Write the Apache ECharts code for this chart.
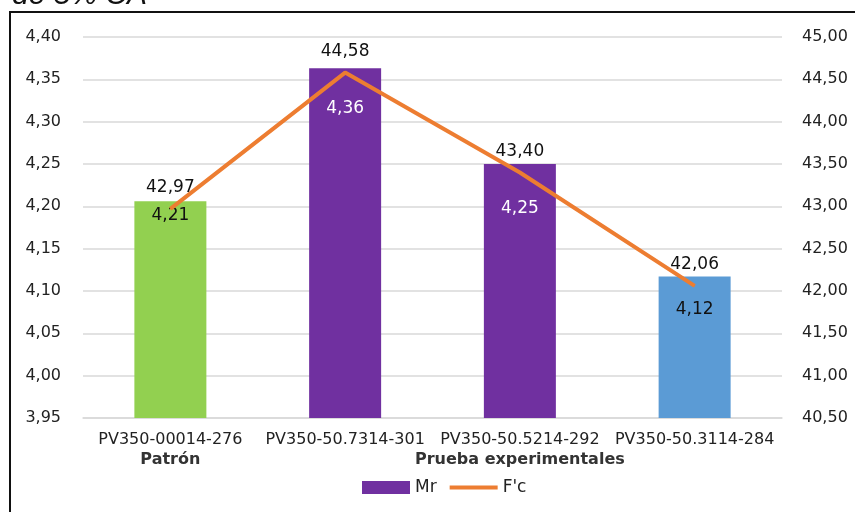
<!DOCTYPE html>
<html><head><meta charset="utf-8">
<script src="https://cdn.jsdelivr.net/npm/echarts@6/dist/echarts.min.js"></script>
<style>html,body{margin:0;padding:0;background:#fff}#c{width:855px;height:512px}</style>
</head><body><div id="c"></div>
<script>
const categories = ['PV350-00014-276','PV350-50.7314-301','PV350-50.5214-292','PV350-50.3114-284'];
const groupLabels = ['Patrón','','Prueba experimentales',''];
const mrValues = [4.206, 4.363, 4.25, 4.117];
const fcValues = [42.97, 44.58, 43.40, 42.06];
const seriesNames = ['Mr', "F'c"];
const titleText = 'de 5% CA';

// styling (not data)
const barColors = ['#92D050','#7030A0','#7030A0','#5B9BD5'];
const barLabelColors = ['#111','#fff','#fff','#111'];
const barLabelDist = [6, 32, 36, 24];
const FONT = 'DejaVu Sans';
const fmt = (v, d) => v.toFixed(d).replace('.', ',');

const chart = echarts.init(document.getElementById('c'));
chart.setOption({
  animation: false,
  textStyle: { fontFamily: FONT },
  grid: { left: 83, right: 73, top: 37, bottom: 94, containLabel: false },
  graphic: [
    { type: 'rect', shape: { x: 10, y: 12, width: 900, height: 600 }, style: { fill: 'none', stroke: '#111', lineWidth: 2 }, z: 100 },
    { type: 'text', left: 12, top: -19, style: { text: titleText, font: 'italic 30px "Liberation Sans", Arial', fill: '#111' } }
  ],
  legend: {
    bottom: 11, left: 357, itemWidth: 48, itemHeight: 13, itemGap: 13,
    textStyle: { fontFamily: FONT, fontSize: 17, color: '#222' },
    data: [
      { name: seriesNames[0], icon: 'rect', itemStyle: { color: '#7030A0' } },
      { name: seriesNames[1], icon: 'path://M0,0h48v4h-48z', itemStyle: { color: '#ED7D31' } }
    ]
  },
  xAxis: [
    { type: 'category', data: categories, position: 'bottom',
      axisLine: { show: true, lineStyle: { color: '#d9d9d9', width: 1.5 } },
      axisTick: { show: false },
      axisLabel: { interval: 0, margin: 14, fontSize: 16, color: '#222', fontFamily: FONT } },
    { type: 'category', data: groupLabels, position: 'bottom', offset: 20,
      axisLine: { show: false }, axisTick: { show: false },
      axisLabel: { interval: 0, margin: 14, fontSize: 16, fontWeight: 'bold', color: '#333', fontFamily: FONT } }
  ],
  yAxis: [
    { type: 'value', min: 3.95, max: 4.40, interval: 0.05,
      axisLine: { show: false }, axisTick: { show: false },
      splitLine: { lineStyle: { color: '#d9d9d9', width: 1.5 } },
      axisLabel: { margin: 22, fontSize: 16, color: '#222', formatter: v => fmt(v, 2) } },
    { type: 'value', min: 40.5, max: 45, interval: 0.5, position: 'right',
      axisLine: { show: false }, axisTick: { show: false }, splitLine: { show: false },
      axisLabel: { margin: 20, fontSize: 16, color: '#222', formatter: v => fmt(v, 2) } }
  ],
  series: [
    { name: seriesNames[0], type: 'bar', xAxisIndex: 0, yAxisIndex: 0, barWidth: 72,
      itemStyle: { color: '#7030A0' },
      data: mrValues.map((v, i) => ({
        value: v,
        itemStyle: { color: barColors[i] },
        label: { show: true, position: 'insideTop', distance: barLabelDist[i], color: barLabelColors[i],
          fontSize: 17, fontFamily: FONT, formatter: p => fmt(p.value, 2) }
      })),
      z: 2 },
    { name: seriesNames[1], type: 'line', xAxisIndex: 0, yAxisIndex: 1,
      data: fcValues, symbol: 'circle', symbolSize: 1, showSymbol: true,
      lineStyle: { color: '#ED7D31', width: 4 }, itemStyle: { color: '#ED7D31' },
      label: { show: true, position: 'top', distance: 12, color: '#111', fontSize: 17, fontFamily: FONT,
        formatter: p => fmt(p.value, 2) },
      z: 3 }
  ]
});
</script></body></html>
